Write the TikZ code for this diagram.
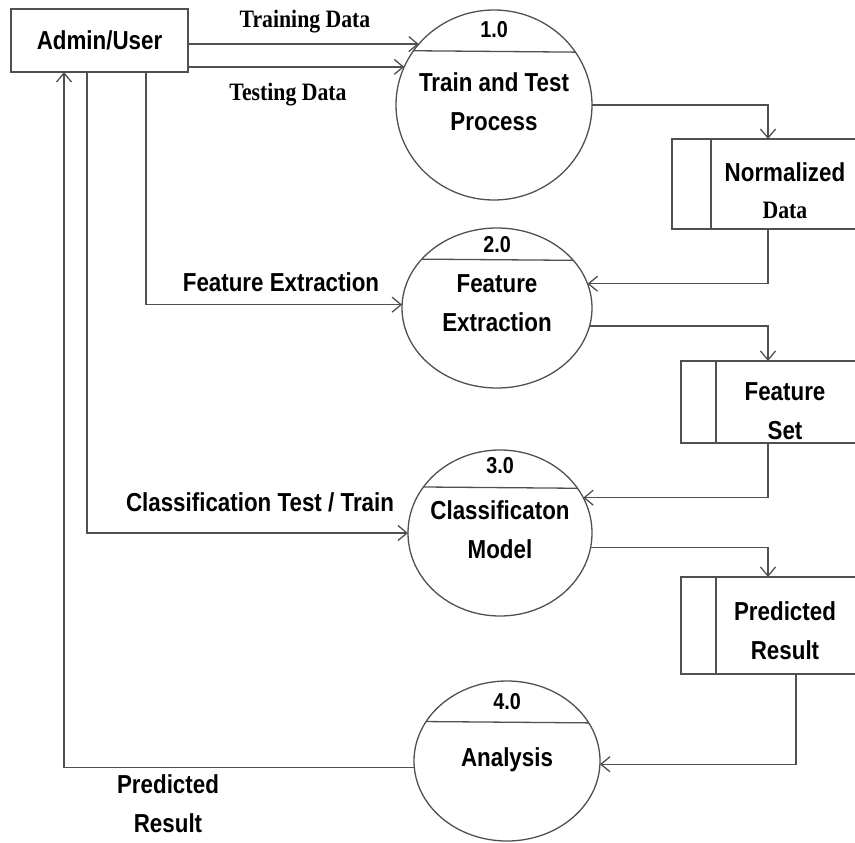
\documentclass[tikz,border=0pt]{standalone}
\usepackage{fontspec}
\setmainfont{Liberation Sans}
\newfontfamily\lbl[FakeStretch=0.86]{Liberation Sans}
\newfontfamily\serlbl[FakeStretch=0.87]{Liberation Serif}
\usetikzlibrary{arrows.meta,shapes.geometric,calc}
\definecolor{linegray}{HTML}{505050}

\begin{document}
\begin{tikzpicture}[x=1pt,y=-1pt,
  line/.style={draw=linegray, line width=1.3pt},
  flow/.style={line, -{Straight Barb[length=9pt,width=15pt,line width=1.3pt]}},
  proc/.style={ellipse, line, inner sep=0pt, outer sep=0pt},
  store/.style={rectangle, line, inner sep=0pt, outer sep=0pt},
  txt/.style={font=\lbl\bfseries\fontsize{26}{39}\selectfont, align=center, inner sep=0pt},
  num/.style={font=\lbl\bfseries\fontsize{23}{28}\selectfont, inner sep=0pt},
  sertxt/.style={font=\serlbl\bfseries\fontsize{25}{30}\selectfont, inner sep=0pt},
]
\useasboundingbox (0,0) rectangle (855,843);

% external entity
\node[store, minimum width=177pt, minimum height=63pt, txt] (admin) at (99.5,40.5) {Admin/User};

% processes
\node[proc, minimum width=196pt, minimum height=190pt] (p1) at (494,105) {};
\node[proc, minimum width=190pt, minimum height=160pt] (p2) at (497,308) {};
\node[proc, minimum width=184pt, minimum height=166pt] (p3) at (500,533) {};
\node[proc, minimum width=186pt, minimum height=160pt] (p4) at (507,761) {};

\draw[line] (p1.33.1) -- (p1.146.9);
\draw[line] (p2.32.3) -- (p2.147.7);
\draw[line] (p3.30.2) -- (p3.149.8);
\draw[line] (p4.25.7) -- (p4.154.3);

\node[num] (n1) at (494,30) {1.0};
\node[txt] (t1) at (494,102) {Train and Test\\Process};
\node[num] (n2) at (497,245) {2.0};
\node[txt] (t2) at (497,303) {Feature\\Extraction};
\node[num] (n3) at (500,466) {3.0};
\node[txt] (t3) at (500,530) {Classificaton\\Model};
\node[num] (n4) at (507,702) {4.0};
\node[txt] (t4) at (507,760) {Analysis};

% data stores
\node[store, minimum width=226pt, minimum height=90pt] (s1) at (785,184) {};
\node[store, minimum width=208pt, minimum height=82pt] (s2) at (785,402) {};
\node[store, minimum width=208pt, minimum height=97pt] (s3) at (785,625.5) {};
\draw[line] ($(s1.north west)+(39,0)$) -- ($(s1.south west)+(39,0)$);
\draw[line] ($(s2.north west)+(35,0)$) -- ($(s2.south west)+(35,0)$);
\draw[line] ($(s3.north west)+(35,0)$) -- ($(s3.south west)+(35,0)$);

\node[txt] (st1) at (785,172) {Normalized};
\node[sertxt] (st1b) at (785,210) {Data};
\node[txt] (st2) at (785,411.5) {Feature\\Set};
\node[txt] (st3) at (785,630.5) {Predicted\\Result};

% data flows
\draw[flow] (admin.east |- p1.141.7) -- (p1.141.7);
\draw[flow] (admin.east |- p1.157.1) -- (p1.157.1);
\draw[flow] ($(admin.south west)+(135,0)$) |- (p2.178);
\draw[flow] ($(admin.south west)+(76,0)$) |- (p3.180);
\draw[flow] (p4.184) -| ($(admin.south west)+(53,0)$);

\draw[flow] (p1.0) -| ($(s1.north west)+(96,0)$);
\draw[flow] ($(s1.south west)+(96,0)$) |- (p2.15.5);
\draw[flow] (p2.-11.6) -| ($(s2.north west)+(87,0)$);
\draw[flow] ($(s2.south west)+(87,0)$) |- (p3.23.5);
\draw[flow] (p3.-9.4) -| ($(s3.north west)+(87,0)$);
\draw[flow] ($(s3.south west)+(115,0)$) |- (p4.-2);

% flow labels
\node[sertxt] (lt1) at (305,22) {Training Data};
\node[sertxt] (lt2) at (288,95) {Testing Data};
\node[txt] (lt3) at (281,282) {Feature Extraction};
\node[txt] (lt4) at (260,502) {Classification Test / Train};
\node[txt] (lt5) at (168,804) {Predicted\\Result};
\end{tikzpicture}
\end{document}
